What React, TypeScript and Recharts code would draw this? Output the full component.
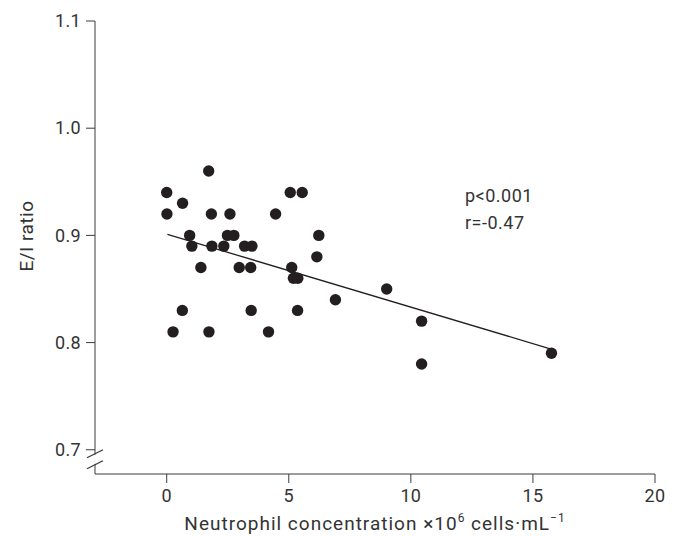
import { ScatterChart, Scatter, XAxis, YAxis, ReferenceLine, Label, Customized } from 'recharts';

// neutrophil concentration (x10^6 cells/mL) vs E/I ratio
const neutrophil = [
  0.0, 0.01, 0.65, 1.72, 0.94, 1.03, 1.83, 1.85, 1.4, 0.64, 0.26, 1.73,
  2.59, 2.34, 2.49, 2.75, 3.19, 3.49, 2.97, 3.44, 3.46, 4.17, 4.46, 5.06,
  5.55, 6.23, 6.15, 5.12, 5.19, 5.37, 5.36, 6.91, 9.01, 10.44, 10.44, 15.76,
];
const eiRatio = [
  0.94, 0.92, 0.93, 0.96, 0.90, 0.89, 0.92, 0.89, 0.87, 0.83, 0.81, 0.81,
  0.92, 0.89, 0.90, 0.90, 0.89, 0.89, 0.87, 0.87, 0.83, 0.81, 0.92, 0.94,
  0.94, 0.90, 0.88, 0.87, 0.86, 0.86, 0.83, 0.84, 0.85, 0.82, 0.78, 0.79,
];

// regression line end points
const fitX = [0.03, 15.74];
const fitY = [0.901, 0.794];

const xTicks = [0, 5, 10, 15, 20];
const yTicks = [0.7, 0.8, 0.9, 1.0, 1.1];

const annotation = ['p<0.001', 'r=-0.47'];

const points = neutrophil.map((x, i) => ({ x, y: eiRatio[i] }));

const FONT = 'Roboto, sans-serif';
const INK = '#231f20';
const TEXT = '#333';
const AXIS = '#3c3c3c';

const Y_TICK = 9;
const Y_MARGIN = 5;

const YTick = (props: any) => {
  const { x, y, payload } = props;
  const ax = x + Y_TICK + Y_MARGIN;
  const isBreak = payload.value === 0.7;
  return (
    <g>
      <text x={x} y={y} dy="0.35em" textAnchor="end" fontSize={18} fill={TEXT} fontFamily={FONT} letterSpacing={0.3}>
        {payload.value.toFixed(1)}
      </text>
      {isBreak && (
        <g>
          <rect x={ax - 2} y={y + 5} width={4} height={9} fill="#fff" />
          <line x1={ax - 8} y1={y + 8} x2={ax + 8} y2={y} stroke={AXIS} strokeWidth={1.3} />
          <line x1={ax - 8} y1={y + 19} x2={ax + 8} y2={y + 11} stroke={AXIS} strokeWidth={1.3} />
        </g>
      )}
    </g>
  );
};

const XLabel = (props: any) => {
  const { viewBox } = props;
  const cx = viewBox.x + viewBox.width / 2;
  return (
    <text x={cx} y={530} textAnchor="middle" fontSize={19} fill={TEXT} fontFamily={FONT} letterSpacing={1}>
      Neutrophil concentration ×10
      <tspan dy={-8} fontSize={12}>6</tspan>
      <tspan dy={8}> cells·mL</tspan>
      <tspan dy={-8} fontSize={12}>−1</tspan>
    </text>
  );
};

const YLabel = () => (
  <text
    x={26}
    y={236}
    transform="rotate(-90 26 236)"
    textAnchor="middle"
    dominantBaseline="central"
    fontSize={19}
    fill={TEXT}
    fontFamily={FONT}
    letterSpacing={0.5}
  >
    E/I ratio
  </text>
);

const Dot = (props: any) => {
  const { cx, cy } = props;
  return <circle cx={cx} cy={cy} r={5.7} fill={INK} />;
};

export default function App() {
  return (
    <div style={{ position: 'absolute', left: 0, top: 0, background: '#fff' }}>
      <ScatterChart width={681} height={536} margin={{ top: 21, right: 26, bottom: 0, left: 0 }}>
        <XAxis
          type="number"
          dataKey="x"
          domain={[-2.937, 20]}
          ticks={xTicks}
          allowDataOverflow
          height={62}
          tickSize={9}
          tickMargin={6}
          stroke={AXIS}
          tick={{ fontSize: 18, fill: TEXT, fontFamily: FONT, letterSpacing: 0.3 }}
        >
          <Label content={<XLabel />} />
        </XAxis>
        <YAxis
          type="number"
          dataKey="y"
          domain={[0.6774, 1.1]}
          ticks={yTicks}
          allowDataOverflow
          width={95}
          tickSize={Y_TICK}
          tickMargin={Y_MARGIN}
          stroke={AXIS}
          tick={<YTick />}
        >
          <Label content={<YLabel />} />
        </YAxis>
        <ReferenceLine
          segment={[
            { x: fitX[0], y: fitY[0] },
            { x: fitX[1], y: fitY[1] },
          ]}
          stroke={INK}
          strokeWidth={1.3}
        />
        <Scatter data={points} shape={<Dot />} isAnimationActive={false} />
        <Customized
          component={() => (
            <g fontFamily={FONT} fontSize={18} fill={TEXT} letterSpacing={0.5}>
              <text x={465} y={202}>{annotation[0]}</text>
              <text x={465} y={229}>{annotation[1]}</text>
            </g>
          )}
        />
      </ScatterChart>
    </div>
  );
}
